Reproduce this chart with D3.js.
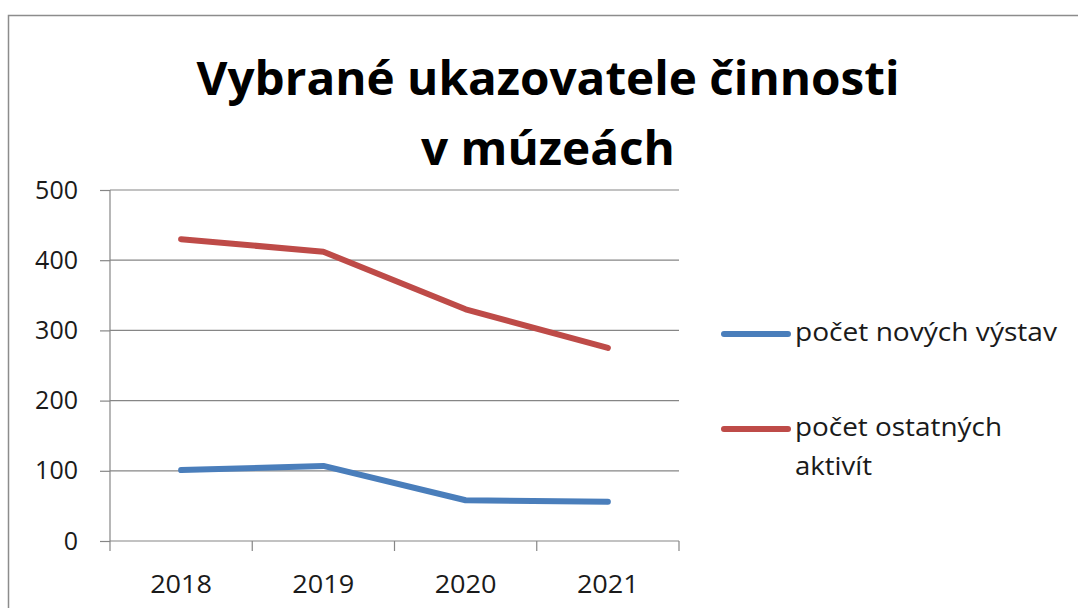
<!DOCTYPE html>
<html>
<head>
<meta charset="utf-8">
<script src="https://cdn.jsdelivr.net/npm/d3@7"></script>
<style>
  body { margin: 0; background: #fff; }
  text { font-family: "Open Sans", "Noto Sans", sans-serif; }
</style>
</head>
<body>
<div id="chart"></div>
<script>
const years = ['2018', '2019', '2020', '2021']
const novychVystav = [101, 107, 58, 56]
const ostatnychAktivit = [430, 412, 330, 275]
const yTicks = [0, 100, 200, 300, 400, 500]
const seriesNames = ['počet nových výstav', 'počet ostatných aktivít']
const titleLines = ['Vybrané ukazovatele činnosti', 'v múzeách']

const chartWidth = 1078
const chartHeight = 608
const margin = { top: 190, left: 110, right: 399, bottom: 67 }
const width = chartWidth - margin.left - margin.right
const height = chartHeight - margin.top - margin.bottom

const root = d3.select('#chart')
  .append('svg')
  .attr('width', chartWidth)
  .attr('height', chartHeight)

// outer chart frame
root.append('rect')
  .attr('x', 8.5).attr('y', 15.5)
  .attr('width', 1100).attr('height', 700)
  .attr('fill', 'none')
  .attr('stroke', '#8c8c8c')
  .attr('stroke-width', 1.5)

root.selectAll('.title')
  .data(titleLines)
  .enter()
  .append('text')
  .attr('class', 'title')
  .attr('x', 548)
  .attr('y', (d, i) => 95 + i * 70)
  .attr('text-anchor', 'middle')
  .attr('font-size', 46)
  .attr('font-weight', 'bold')
  .attr('textLength', (d, i) => i === 0 ? 703 : 254)
  .attr('lengthAdjust', 'spacingAndGlyphs')
  .text(d => d)

const svg = root.append('g')
  .attr('transform', `translate(${margin.left}, ${margin.top})`)

const x = d3.scaleBand().domain(years).range([0, width])
const y = d3.scaleLinear().domain([0, 500]).range([height, 0])

// gridlines
svg.append('g')
  .selectAll('line')
  .data(yTicks.slice(1))
  .enter()
  .append('line')
  .attr('x1', 0).attr('x2', width)
  .attr('y1', d => y(d)).attr('y2', d => y(d))
  .attr('stroke', '#868686')
  .attr('stroke-width', 1.2)

const yAxis = svg.append('g')
  .attr('class', 'axis y-axis')
  .call(d3.axisLeft(y).tickValues(yTicks).tickSize(10).tickPadding(22))
yAxis.selectAll('line, path').attr('stroke', '#868686').attr('stroke-width', 1.2)
yAxis.select('.domain').attr('d', `M0,${height}V0`)
yAxis.selectAll('text')
  .attr('font-size', 25)
  .attr('fill', '#1a1a1a')
  .attr('font-family', '"Open Sans", sans-serif')

const xAxis = svg.append('g')
  .attr('class', 'axis x-axis')
  .attr('transform', `translate(0, ${height})`)
  .call(d3.axisBottom(x).tickSize(0).tickPadding(34))
xAxis.select('.domain').attr('stroke', '#868686').attr('stroke-width', 1.2).attr('d', `M0,0H${width}`)
xAxis.selectAll('text')
  .attr('font-size', 25)
  .attr('fill', '#1a1a1a')
  .attr('font-family', '"Open Sans", sans-serif')
  .attr('textLength', 62)
  .attr('lengthAdjust', 'spacingAndGlyphs')

// category boundary ticks
svg.append('g')
  .selectAll('line')
  .data(d3.range(years.length + 1))
  .enter()
  .append('line')
  .attr('x1', i => i * x.step()).attr('x2', i => i * x.step())
  .attr('y1', height).attr('y2', height + 10)
  .attr('stroke', '#868686')
  .attr('stroke-width', 1.2)

const line = d3.line()
  .x((d, i) => x(years[i]) + x.bandwidth() / 2)
  .y(d => y(d))

const colors = ['#4a7ebb', '#be4b48']
const series = [novychVystav, ostatnychAktivit]

svg.selectAll('.series')
  .data(series)
  .enter()
  .append('path')
  .attr('class', 'series')
  .attr('d', line)
  .attr('fill', 'none')
  .attr('stroke', (d, i) => colors[i])
  .attr('stroke-width', 6)
  .attr('stroke-linecap', 'round')
  .attr('stroke-linejoin', 'round')

// legend
const legend = root.append('g').attr('transform', 'translate(724, 0)')
const legendY = [334, 429]
const legendLines = [['počet nových výstav'], ['počet ostatných', 'aktivít']]
const legendWidths = [[262], [207, 77]]
seriesNames.forEach((name, i) => {
  legend.append('line')
    .attr('x1', 0).attr('x2', 64)
    .attr('y1', legendY[i]).attr('y2', legendY[i])
    .attr('stroke', colors[i])
    .attr('stroke-width', 6)
    .attr('stroke-linecap', 'round')
  legend.selectAll(`.leg-${i}`)
    .data(legendLines[i])
    .enter()
    .append('text')
    .attr('class', `leg-${i}`)
    .attr('x', 71)
    .attr('y', (d, j) => legendY[i] + 7 + j * 39)
    .attr('font-size', 25)
    .attr('fill', '#1a1a1a')
    .attr('textLength', (d, j) => legendWidths[i][j])
    .attr('lengthAdjust', 'spacingAndGlyphs')
    .text(d => d)
})
</script>
</body>
</html>
